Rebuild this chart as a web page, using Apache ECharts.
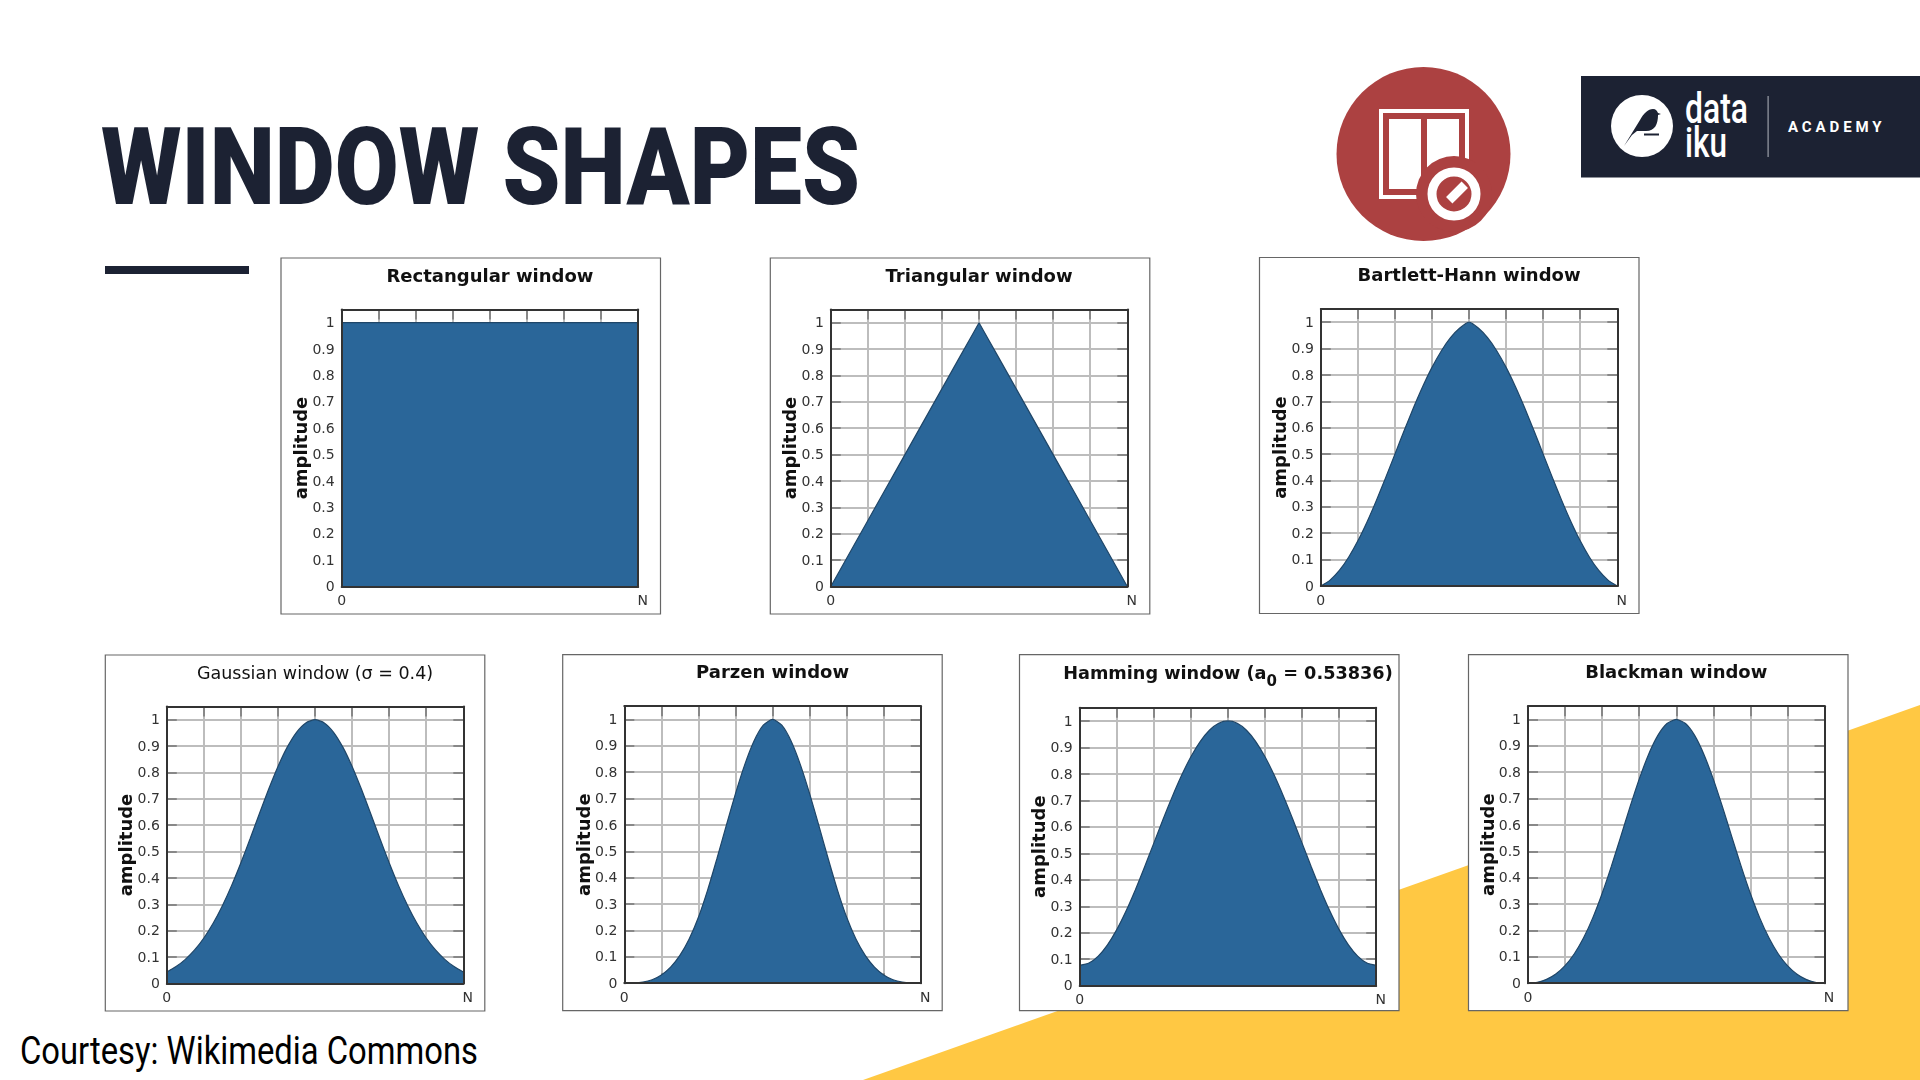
<!DOCTYPE html>
<html><head><meta charset="utf-8">
<style>
html,body{margin:0;padding:0;background:#fff;width:1920px;height:1080px;overflow:hidden}
#deco{position:absolute;left:0;top:0}
#chart{position:absolute;left:0;top:0;width:1920px;height:1080px}
.t{position:absolute;white-space:nowrap;transform-origin:0 50%;font-family:Roboto}
</style>
<script src="https://cdn.jsdelivr.net/npm/echarts@6/dist/echarts.min.js"></script>
</head><body>
<svg id="deco" width="1920" height="1080">
<polygon points="863,1080 1920,705 1920,1080" fill="#FFC843"/>
<rect x="105" y="266" width="144" height="8" fill="#1C2233"/>
<circle cx="1423.5" cy="154" r="87" fill="#AC4141"/>
<rect x="1381" y="111" width="86" height="86" fill="none" stroke="#fff" stroke-width="4"/>
<rect x="1389" y="119" width="32" height="70" fill="#fff"/>
<rect x="1427" y="119" width="32" height="70" fill="#fff"/>
<circle cx="1454" cy="194" r="38" fill="#AC4141"/>
<circle cx="1454" cy="194" r="22" fill="none" stroke="#fff" stroke-width="9"/>
<rect x="1446" y="188" width="22" height="9" fill="#fff" transform="rotate(-45 1457 192.5)"/>
<rect x="1581" y="76" width="339" height="101.5" fill="#1C2233"/>
<circle cx="1642" cy="126" r="31" fill="#fff"/>
<path d="M1624,146 L1640,120 C1644,113 1648,109 1653,109 C1656,109 1657,111 1658,113 L1661,114 L1658,115 C1658,124 1655,131 1646,131 L1637,131 L1632,135 Z" fill="#1C2233"/>
<rect x="1644" y="133.5" width="15" height="2" fill="#1C2233"/>
<rect x="1767.5" y="96" width="1.2" height="61" fill="#9a9ea8"/>
</svg>
<div class="t" data-w="759" style="left:101px;top:113px;font-size:108px;line-height:108px;font-weight:900;color:#1C2233">WINDOW SHAPES</div>
<div class="t" data-w="458" style="left:20px;top:1031px;font-size:38px;line-height:40px;color:#000">Courtesy: Wikimedia Commons</div>
<div class="t" data-w="63" style="left:1685px;top:88px;font-size:42px;line-height:42px;font-weight:500;color:#fff">data</div>
<div class="t" data-w="42" style="left:1685px;top:122px;font-size:42px;line-height:42px;font-weight:500;color:#fff">iku</div>
<div class="t" style="left:1788px;top:118px;font-size:15px;line-height:18px;font-weight:700;letter-spacing:3.9px;color:#fff">ACADEMY</div>
<div id="chart"></div>
<script>
const titles = ['Rectangular window','Triangular window','Bartlett-Hann window','Gaussian window (σ = 0.4)','Parzen window','Hamming window (a{s|0} = 0.53836)','Blackman window'];
const xPositions = [0,0.25,0.5,0.75,1,1.25,1.5,1.75,2,2.25,2.5,2.75,3,3.25,3.5,3.75,4,4.25,4.5,4.75,5,5.25,5.5,5.75,6,6.25,6.5,6.75,7,7.25,7.5,7.75,8];
const xTickLabels = ['0','','','','','','','','N'];
const yTickLabels = ['0','0.1','0.2','0.3','0.4','0.5','0.6','0.7','0.8','0.9','1'];
const rectangular = [1,1,1,1,1,1,1,1,1,1,1,1,1,1,1,1,1,1,1,1,1,1,1,1,1,1,1,1,1,1,1,1,1];
const triangular = [0,0.0625,0.125,0.1875,0.25,0.3125,0.375,0.4375,0.5,0.5625,0.625,0.6875,0.75,0.8125,0.875,0.9375,1,0.9375,0.875,0.8125,0.75,0.6875,0.625,0.5625,0.5,0.4375,0.375,0.3125,0.25,0.1875,0.125,0.0625,0];
const bartlettHann = [0,0.0223,0.0589,0.109,0.1713,0.2439,0.3246,0.4109,0.5,0.5891,0.6754,0.7561,0.8287,0.891,0.9411,0.9777,1,0.9777,0.9411,0.891,0.8287,0.7561,0.6754,0.5891,0.5,0.4109,0.3246,0.2439,0.1713,0.109,0.0589,0.0223,0];
const gaussian = [0.0439,0.0641,0.0914,0.1271,0.1724,0.2283,0.295,0.372,0.4578,0.5498,0.6444,0.737,0.8226,0.8959,0.9523,0.9879,1,0.9879,0.9523,0.8959,0.8226,0.737,0.6444,0.5498,0.4578,0.372,0.295,0.2283,0.1724,0.1271,0.0914,0.0641,0.0439];
const parzen = [0,0.0005,0.0039,0.0132,0.0313,0.061,0.1055,0.1675,0.25,0.354,0.4727,0.5972,0.7188,0.8286,0.918,0.978,1,0.978,0.918,0.8286,0.7188,0.5972,0.4727,0.354,0.25,0.1675,0.1055,0.061,0.0313,0.0132,0.0039,0.0005,0];
const hamming = [0.0767,0.0856,0.1119,0.1545,0.2119,0.2819,0.3617,0.4483,0.5384,0.6284,0.715,0.7948,0.8648,0.9222,0.9649,0.9911,1,0.9911,0.9649,0.9222,0.8648,0.7948,0.715,0.6284,0.5384,0.4483,0.3617,0.2819,0.2119,0.1545,0.1119,0.0856,0.0767];
const blackman = [0,0.0035,0.0146,0.0349,0.0665,0.1116,0.1721,0.2485,0.34,0.4436,0.5548,0.6672,0.7736,0.8663,0.9385,0.9843,1,0.9843,0.9385,0.8663,0.7736,0.6672,0.5548,0.4436,0.34,0.2485,0.1721,0.1116,0.0665,0.0349,0.0146,0.0035,0];
const seriesValues = [rectangular,triangular,bartlettHann,gaussian,parzen,hamming,blackman];

// layout: frame left/top, plot offset left/top, plot height, title weight, smoothing
const layout = [
 {l:281,t:258,pl:60.7,pt:51.5,ph:277,w:'bold',s:false},
 {l:770.3,t:258,pl:60.5,pt:51.5,ph:277,w:'bold',s:false},
 {l:1259.5,t:257.5,pl:61.3,pt:51.5,ph:277,w:'bold',s:0.2},
 {l:105.3,t:655,pl:61.5,pt:51.5,ph:277,w:'normal',s:0.2},
 {l:562.7,t:654.7,pl:61.6,pt:51.5,ph:277,w:'bold',s:0.2},
 {l:1019.5,t:654.7,pl:60.2,pt:53,ph:278,w:'bold',s:0.2},
 {l:1468.5,t:654.7,pl:59.5,pt:51.5,ph:277,w:'bold',s:0.2}
];
const FRAME_W=379.5, FRAME_H=356, PLOT_W=296.5, FONT='DejaVu Sans';
const grid=[],xAxis=[],yAxis=[],series=[],title=[],graphic=[];
const lineOnly={axisLine:{show:true,onZero:false,lineStyle:{color:'#333',width:2}},axisTick:{show:false},axisLabel:{show:false},splitLine:{show:false},z:6};
const noLine={axisLine:{show:false,onZero:false}};
const inTick={show:true,inside:true,length:10,lineStyle:{color:'#777',width:1.5}};
layout.forEach((p,i)=>{
  graphic.push({type:'rect',z:-5,shape:{x:p.l,y:p.t,width:FRAME_W,height:FRAME_H},style:{fill:'#fff',stroke:'#666',lineWidth:1.2}});
  grid.push({left:p.l+p.pl,top:p.t+p.pt,width:PLOT_W,height:p.ph,outerBoundsMode:'none',containLabel:false});
  const xBase={gridIndex:i,type:'value',min:0,max:8,interval:1};
  const yBase={gridIndex:i,type:'value',min:0,max:1.05,interval:0.1};
  const ax=xAxis.length, ay=yAxis.length;
  xAxis.push({...xBase,position:'bottom',...noLine,axisTick:inTick,
    splitLine:{show:true,lineStyle:{color:'#bdbdbd',width:2}},
    axisLabel:{show:true,margin:8,fontFamily:FONT,fontSize:14,color:'#333',showMinLabel:true,showMaxLabel:true,
      formatter:v=>{const s=xTickLabels[Math.round(v)];return s==='N'?'{n|N}':s;},
      rich:{n:{fontFamily:FONT,fontSize:14,color:'#333',padding:[0,0,0,9]}}}});
  xAxis.push({...xBase,position:'top',...noLine,axisTick:inTick,axisLabel:{show:false},splitLine:{show:false}});
  xAxis.push({...xBase,position:'bottom',...lineOnly});
  xAxis.push({...xBase,position:'top',...lineOnly});
  yAxis.push({...yBase,position:'left',...noLine,axisTick:inTick,
    splitLine:{show:true,lineStyle:{color:'#bdbdbd',width:2}},
    name:'amplitude',nameLocation:'middle',nameGap:30,nameMoveOverlap:false,nameTextStyle:{fontFamily:FONT,fontWeight:'bold',fontSize:18,color:'#111'},
    axisLabel:{show:true,margin:7,fontFamily:FONT,fontSize:14,color:'#333',
      formatter:v=>v>1.01?'':'{y|'+yTickLabels[Math.round(v*10)]+'}',
      rich:{y:{fontFamily:FONT,fontSize:14,color:'#333',padding:[2,0,0,0]}}}});
  yAxis.push({...yBase,position:'right',...noLine,axisTick:inTick,axisLabel:{show:false},splitLine:{show:false}});
  yAxis.push({...yBase,position:'left',...lineOnly});
  yAxis.push({...yBase,position:'right',...lineOnly});
  series.push({type:'line',xAxisIndex:ax,yAxisIndex:ay,symbol:'none',smooth:p.s,z:3,
    data:xPositions.map((x,k)=>[x,seriesValues[i][k]]),
    lineStyle:{color:'#1f4668',width:1.2},areaStyle:{color:'#2A6699',opacity:1,origin:'start'},silent:true,animation:false});
  const isSub=titles[i].includes('{s|');
  title.push({text:isSub?titles[i].replace(/^(.*)\{s\|0\}(.*)$/,'{a|$1}{s|0}{a|$2}'):titles[i],
    left:p.l+p.pl+PLOT_W/2,top:p.t+(isSub?11:10),textAlign:'center',padding:0,
    textStyle:{fontFamily:FONT,fontWeight:p.w,fontSize:p.w==='bold'?18:17.5,color:'#111',
      rich:{a:{fontFamily:FONT,fontWeight:'bold',fontSize:17.7,color:'#111',lineHeight:24,verticalAlign:'top'},
            s:{fontFamily:FONT,fontWeight:'bold',fontSize:15,color:'#111',lineHeight:24,verticalAlign:'bottom'}}}});
});
const chart=echarts.init(document.getElementById('chart'),null,{renderer:'canvas'});
chart.setOption({animation:false,backgroundColor:'transparent',grid,xAxis,yAxis,series,title,graphic:{elements:graphic}});
document.fonts.ready.then(()=>{document.querySelectorAll('.t[data-w]').forEach(el=>{
  const w=el.getBoundingClientRect().width;el.style.transform='scaleX('+(+el.dataset.w/w)+')';});});
</script>
</body></html>
